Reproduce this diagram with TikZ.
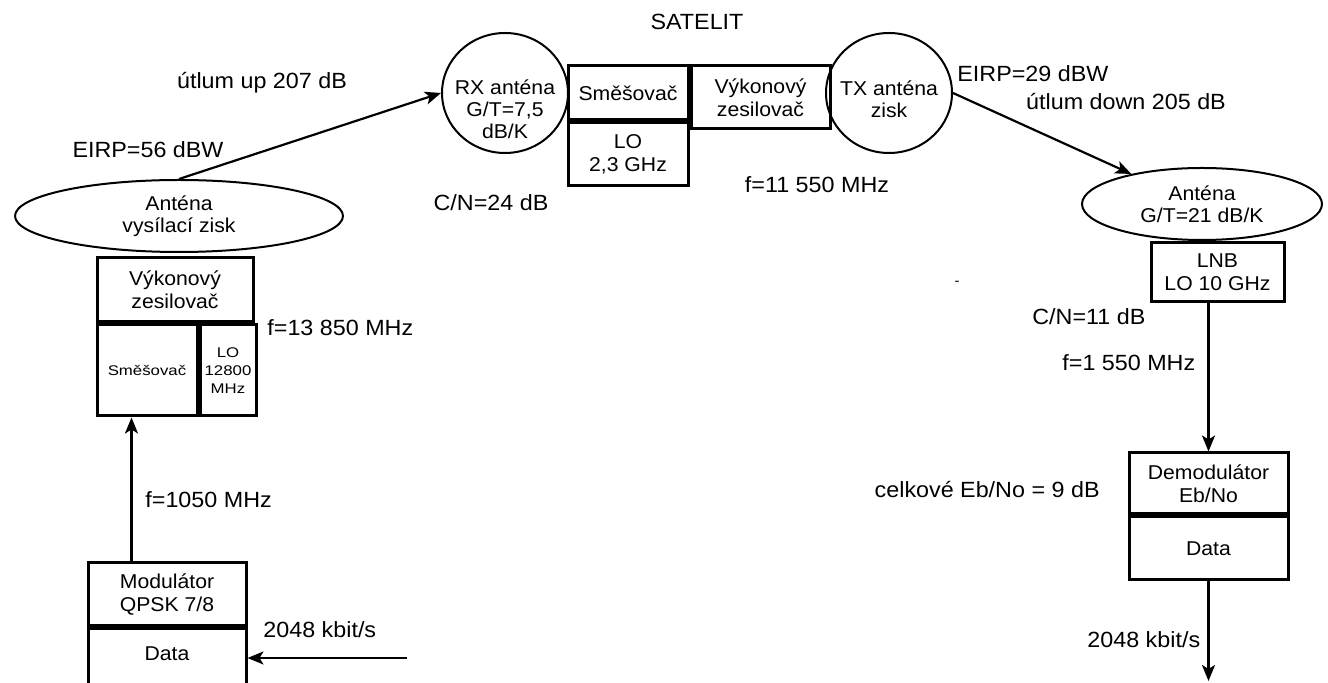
\documentclass[tikz,border=0pt]{standalone}
\usepackage{fontspec}
\setmainfont{Liberation Sans}[FakeStretch=1.06]
\newfontfamily\malyfont{Liberation Sans}[FakeStretch=1.2]
\usepackage{tikz}
\usetikzlibrary{arrows.meta,shapes.geometric,positioning,calc}
\tikzset{
  blok/.style   ={draw, line width=1.5pt, align=center, inner sep=0pt,
                  minimum width=#1, font=\fontsize{10}{11.5}\selectfont},
  blok/.default=60pt,
  malyblok/.style={blok=#1, font=\malyfont\fontsize{7}{9}\selectfont},
  anten/.style  ={draw, ellipse, line width=1pt, align=center, inner sep=-4pt,
                  font=\fontsize{10}{11}\selectfont},
  antext/.style ={align=center, inner sep=0pt, font=\fontsize{10}{11}\selectfont},
  popis/.style  ={font=\fontsize{11}{13}\selectfont, inner sep=0pt},
  sip/.style    ={-{Stealth[length=8pt,width=6.5pt,inset=2pt]}, line width=1.1pt},
}
\begin{document}
\begin{tikzpicture}[x=0.5pt, y=-0.5pt]
  \useasboundingbox (0,0) rectangle (1328,683);

  % pozemni vysilac
  \node[anten, minimum width=164pt, minimum height=36pt] (antTx) at (179,216)
        {Anténa\\vysílací zisk};
  \node[blok=78pt, minimum height=32pt] (vyk1) at (175,290) {Výkonový\\zesilovač};
  \node[malyblok=50pt, minimum height=45.5pt, anchor=north west] (smes1)
        at (vyk1.south west) {Směšovač};
  \node[malyblok=28pt, minimum height=45.5pt, right=0pt of smes1] (lo1)
        {LO\\12800\\MHz};
  \node[blok=79pt, minimum height=31.5pt] (mod) at (167,594.5) {Modulátor\\QPSK 7/8};
  \node[blok=79pt, minimum height=37pt, text height=7pt, text depth=12pt,
        below=0pt of mod] (data1) {Data};

  % satelit
  \node[anten, minimum width=63pt, minimum height=60pt,
        label={[antext, yshift=-8pt]center:RX anténa\\G/T=7,5\\dB/K}]
        (rxAnt) at (505,93) {};
  \node[blok=60pt, minimum height=27pt] (smes2) at (628,93) {Směšovač};
  \node[blok=60pt, minimum height=31.5pt, below=0pt of smes2] (lo2) {LO\\2,3 GHz};
  \node[blok=69.5pt, minimum height=31.5pt, anchor=north west] (vyk2)
        at (smes2.north east) {Výkonový\\zesilovač};
  \node[anten, minimum width=63pt, minimum height=60pt,
        label={[antext, yshift=-3pt]center:TX anténa\\zisk}]
        (txAnt) at (889,93) {};

  % pozemni prijimac
  \node[anten, minimum width=120pt, minimum height=36pt] (antRx) at (1202,204)
        {Anténa\\G/T=21 dB/K};
  \node[blok=66.5pt, minimum height=29.5pt] (lnb) at (1217.5,272.5) {LNB\\LO 10 GHz};
  \node[blok=79.5pt, minimum height=30.5pt] (demod) at (1208.5,483.5)
        {Demodulátor\\Eb/No};
  \node[blok=79.5pt, minimum height=31.5pt, below=0pt of demod] (data2) {Data};

  % popisky
  \node[popis] (satelit) at (697,22) {SATELIT};
  \node[popis] (utlumUp) at (262,83) {útlum up 207 dB};
  \node[popis] (eirpUp) at (148,150) {EIRP=56 dBW};
  \node[popis, anchor=west] (fUp) at (267,328) {f=13 850 MHz};
  \node[popis, anchor=west] (fMod) at (145,500) {f=1050 MHz};
  \node[popis, anchor=west] (rateTx) at (263,630) {2048 kbit/s};
  \node[popis] (cnUp) at (491,203) {C/N=24 dB};
  \node[popis] (fDown) at (817,185) {f=11 550 MHz};
  \node[popis, anchor=west] (eirpDown) at (957,74) {EIRP=29 dBW};
  \node[popis] (utlumDown) at (1126,102) {útlum down 205 dB};
  \node[popis, font=\fontsize{7}{8}\selectfont] (pomlcka) at (957,283) {-};
  \node[popis, anchor=west] (cnDown) at (1032,317) {C/N=11 dB};
  \node[popis, anchor=west] (fIf) at (1062,363) {f=1 550 MHz};
  \node[popis, anchor=east] (ebno) at (1100,490) {celkové Eb/No = 9 dB};
  \node[popis, anchor=west] (rateRx) at (1087,640) {2048 kbit/s};

  % spoje
  \coordinate (vstup) at (407,658);
  \coordinate (vystup) at (1208.5,681);
  \draw[sip] (vstup) -- (vstup -| data1.east);
  \draw[sip] (mod.north west) ++(45,0) coordinate (m1) -- (m1 |- smes1.south);
  \draw[sip] (antTx.north) -- (rxAnt.west);
  \draw[sip] (txAnt.east) -- (antRx.157);
  \draw[sip] (lnb.south -| demod) -- (demod.north);
  \draw[sip] (data2) -- (vystup);
\end{tikzpicture}
\end{document}
